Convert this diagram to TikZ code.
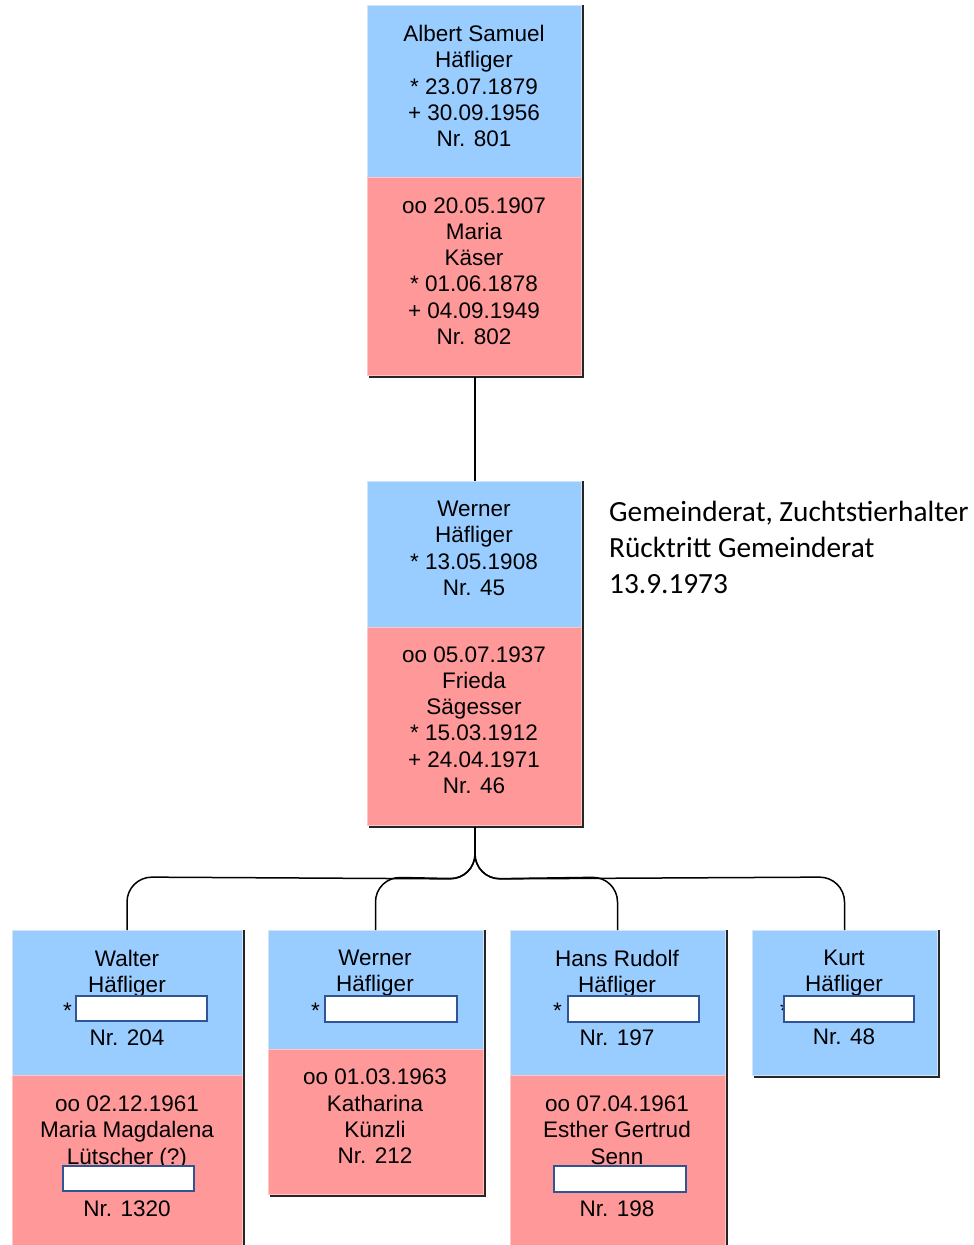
\documentclass[tikz,border=0pt]{standalone}
\usepackage{fontspec}
\setmainfont{Liberation Sans}
\newfontfamily\notefont{Carlito}
\definecolor{personblue}{HTML}{99CCFF}
\definecolor{partnerpink}{HTML}{FF9999}
\definecolor{blueedge}{HTML}{D2E4F6}
\definecolor{pinkedge}{HTML}{FFC6C6}
\definecolor{fieldedge}{HTML}{2F5597}
\tikzset{
  card/.style={anchor=north west, inner sep=0pt, outer sep=0pt, line width=1pt},
  bluecard/.style={card, fill=personblue, draw=blueedge},
  pinkcard/.style={card, fill=partnerpink, draw=pinkedge},
  cardshadow/.style={line width=1.5pt, black!85},
  cardtext/.style={font=\fontsize{22.5}{26.3}\selectfont, align=center, inner sep=0pt},
  field/.style={anchor=north west, draw=fieldedge, fill=white, line width=2pt, inner sep=0pt},
  link/.style={line width=1.5pt, black},
  note/.style={font=\notefont\fontsize{29.3}{36}\selectfont, align=left, inner sep=0pt, anchor=west}
}
\begin{document}
\begin{tikzpicture}[x=1pt,y=-1pt]
\useasboundingbox (0,0) rectangle (974,1245);

% ---------- Albert Samuel and Maria ----------
\node[bluecard, minimum width=214pt, minimum height=172pt] (ab) at (367,5) {};
\node[pinkcard, minimum width=214pt, minimum height=198pt] (ap) at (367,177) {};
\draw[cardshadow] ([shift={(2,0)}]ab.north east) -- ([shift={(2,2)}]ap.south east) -- ([shift={(2,2)}]ap.south west);
\node[cardtext] (abt) at (474,86) {Albert Samuel\\Häfliger\\* 23.07.1879\\+ 30.09.1956\\Nr. 801};
\node[cardtext] (apt) at (474,271) {oo 20.05.1907\\Maria\\Käser\\* 01.06.1878\\+ 04.09.1949\\Nr. 802};

% ---------- Werner and Frieda ----------
\node[bluecard, minimum width=214pt, minimum height=146pt] (wb) at (367,481) {};
\node[pinkcard, minimum width=214pt, minimum height=198pt] (wp) at (367,627) {};
\draw[cardshadow] ([shift={(2,0)}]wb.north east) -- ([shift={(2,2)}]wp.south east) -- ([shift={(2,2)}]wp.south west);
\node[cardtext] (wbt) at (474,548.5) {Werner\\Häfliger\\* 13.05.1908\\Nr. 45};
\node[cardtext] (wpt) at (474,720) {oo 05.07.1937\\Frieda\\Sägesser\\* 15.03.1912\\+ 24.04.1971\\Nr. 46};

\node[note] (remark) at (609,547.5) {Gemeinderat, Zuchtstierhalter\\Rücktritt Gemeinderat\\13.9.1973};

% ---------- children ----------
% Walter
\node[bluecard, minimum width=230pt, minimum height=145pt] (c1b) at (12,930) {};
\node[pinkcard, minimum width=230pt, minimum height=172pt] (c1p) at (12,1075) {};
\draw[cardshadow] ([shift={(2,0)}]c1b.north east) -- ([shift={(2,0)}]c1p.south east);
\node[cardtext] (c1bt) at (127,997.5) {Walter\\Häfliger\\* \hphantom{00.00.0000}\\Nr. 204};
\node[cardtext] (c1pt) at (127,1156.5) {oo 02.12.1961\\Maria Magdalena\\Lütscher (?)\\\hphantom{+ 00.00.0000}\\Nr. 1320};
\node[field, minimum width=131pt, minimum height=25pt] (c1f1) at (75,995) {};
\node[field, minimum width=131pt, minimum height=25pt] (c1f2) at (62,1165) {};

% Werner
\node[bluecard, minimum width=215pt, minimum height=119pt] (c2b) at (268,930) {};
\node[pinkcard, minimum width=215pt, minimum height=145pt] (c2p) at (268,1049) {};
\draw[cardshadow] ([shift={(2,0)}]c2b.north east) -- ([shift={(2,2)}]c2p.south east) -- ([shift={(2,2)}]c2p.south west);
\node[cardtext] (c2bt) at (375,984) {Werner\\Häfliger\\* \hphantom{00.00.0000}};
\node[cardtext] (c2pt) at (375,1116.5) {oo 01.03.1963\\Katharina\\Künzli\\Nr. 212};
\node[field, minimum width=132pt, minimum height=26pt] (c2f1) at (324,995) {};

% Hans Rudolf
\node[bluecard, minimum width=215pt, minimum height=145pt] (c3b) at (510,930) {};
\node[pinkcard, minimum width=215pt, minimum height=172pt] (c3p) at (510,1075) {};
\draw[cardshadow] ([shift={(2,0)}]c3b.north east) -- ([shift={(2,0)}]c3p.south east);
\node[cardtext] (c3bt) at (617,997.5) {Hans Rudolf\\Häfliger\\* \hphantom{00.00.0000}\\Nr. 197};
\node[cardtext] (c3pt) at (617,1156.5) {oo 07.04.1961\\Esther Gertrud\\Senn\\\hphantom{+ 00.00.0000}\\Nr. 198};
\node[field, minimum width=131pt, minimum height=26pt] (c3f1) at (567,995) {};
\node[field, minimum width=132pt, minimum height=26pt] (c3f2) at (553,1165) {};

% Kurt
\node[bluecard, minimum width=185pt, minimum height=145pt] (c4b) at (752,930) {};
\draw[cardshadow] ([shift={(2,0)}]c4b.north east) -- ([shift={(2,2)}]c4b.south east) -- ([shift={(2,2)}]c4b.south west);
\node[cardtext] (c4bt) at (844,997.5) {Kurt\\Häfliger\\* \hphantom{00.00.0000}\\Nr. 48};
\node[field, minimum width=130pt, minimum height=26pt] (c4f1) at (783,995) {};

% ---------- connectors ----------
\draw[link] ([shift={(1,2)}]ap.south) -- ([shift={(1,0)}]wb.north);
\coordinate (bar) at (0,877);
\foreach \child in {c1b,c2b,c3b,c4b}
  \draw[link, rounded corners=25pt] ([shift={(1,2)}]wp.south) -- ([shift={(1,2)}]wp.south |- bar) -- (\child.north |- bar) -- (\child.north);
\end{tikzpicture}
\end{document}
